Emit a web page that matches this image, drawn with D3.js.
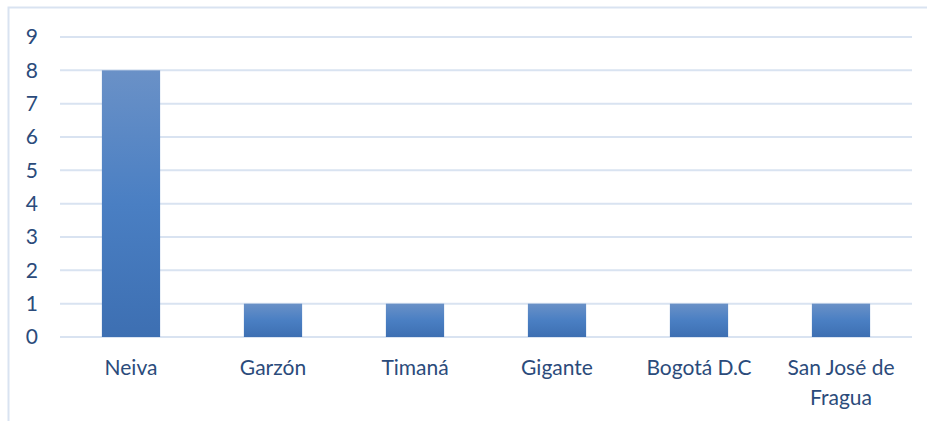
<!DOCTYPE html>
<html>
<head>
<meta charset="utf-8">
<script src="https://cdn.jsdelivr.net/npm/d3@7"></script>
<style>
  body { margin: 0; background: #fff; }
  svg text { font-family: Lato, "Open Sans", sans-serif; fill: #2b4b7b; }
</style>
</head>
<body>
<div id="chart"></div>
<script>
// data
var categories = ["Neiva", "Garzón", "Timaná", "Gigante", "Bogotá D.C", "San José de Fragua"]
var values = [8, 1, 1, 1, 1, 1]
var yTicks = [0, 1, 2, 3, 4, 5, 6, 7, 8, 9]

var W = 927, H = 421
var margin = {top: 37, right: 15, bottom: 84, left: 60}
var width = W - margin.left - margin.right,
    height = H - margin.top - margin.bottom

var svg = d3.select("#chart")
  .append("svg")
    .attr("width", W)
    .attr("height", H)

// outer chart border (only top + left visible in the crop)
svg.append("path")
  .attr("d", "M8.5," + H + "V7.5H" + W)
  .attr("fill", "none")
  .attr("stroke", "#d9e3f1")
  .attr("stroke-width", 2)

var defs = svg.append("defs")
var grad = defs.append("linearGradient")
  .attr("id", "barGrad")
  .attr("x1", 0).attr("y1", 0).attr("x2", 0).attr("y2", 1)
grad.append("stop").attr("offset", "0%").attr("stop-color", "#6a91c7")
grad.append("stop").attr("offset", "50%").attr("stop-color", "#4a7fc3")
grad.append("stop").attr("offset", "100%").attr("stop-color", "#3d6fb2")

var g = svg.append("g")
  .attr("transform", "translate(" + margin.left + "," + margin.top + ")")

var x = d3.scaleBand()
  .domain(categories)
  .range([0, width])
  .paddingInner(0.59)
  .paddingOuter(0.295)

var y = d3.scaleLinear()
  .domain([0, 9])
  .range([height, 0])

// gridlines
g.selectAll(".grid")
  .data(yTicks)
  .enter()
  .append("line")
    .attr("x1", 0)
    .attr("x2", width)
    .attr("y1", function(d) { return y(d) })
    .attr("y2", function(d) { return y(d) })
    .attr("stroke", "#d9e3f1")
    .attr("stroke-width", 2)

// y axis labels
var yAxis = g.append("g")
  .call(d3.axisLeft(y).tickValues(yTicks).tickSize(0).tickPadding(22))
yAxis.attr("font-size", null).attr("font-family", null)
yAxis.select(".domain").remove()
yAxis.selectAll("text")
  .style("font-size", "21px")
  .attr("fill", "#2b4b7b")

// bars
g.selectAll(".bar")
  .data(values)
  .enter()
  .append("rect")
    .attr("x", function(d, i) { return x(categories[i]) })
    .attr("y", function(d) { return y(d) })
    .attr("width", x.bandwidth())
    .attr("height", function(d) { return height - y(d) })
    .attr("fill", "url(#barGrad)")

// x axis labels (wrap long ones)
var xAxis = g.append("g")
  .attr("transform", "translate(0," + height + ")")
  .call(d3.axisBottom(x).tickSize(0).tickPadding(23))
xAxis.attr("font-size", null).attr("font-family", null)
xAxis.select(".domain").remove()
xAxis.selectAll("text")
  .style("font-size", "21px")
  .attr("fill", "#2b4b7b")
  .each(function(d) {
    if (d == "San José de Fragua") {
      var t = d3.select(this)
      t.text(null)
      t.append("tspan").attr("x", 0).attr("dy", "0.71em").text("San José de")
      t.append("tspan").attr("x", 0).attr("dy", "1.43em").text("Fragua")
    }
  })
</script>
</body>
</html>
